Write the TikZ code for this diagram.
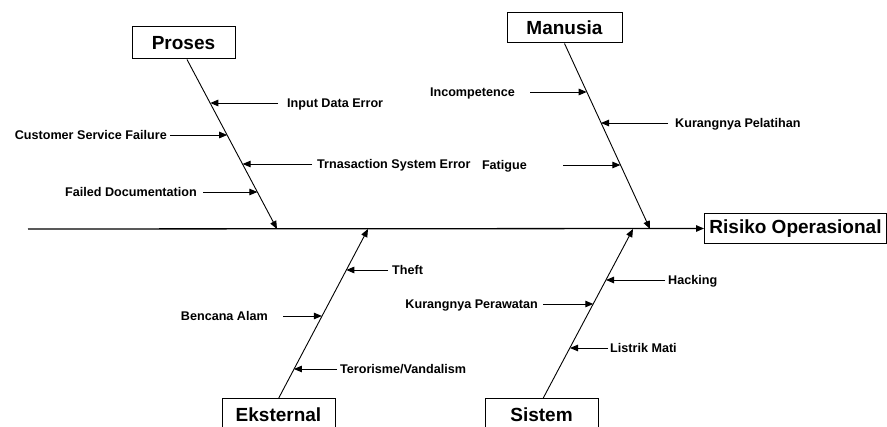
\documentclass[tikz,border=0pt]{standalone}
\usepackage{fontspec}
\setmainfont{Liberation Sans}
\usetikzlibrary{arrows.meta,calc}

\tikzset{
  catbox/.style={draw, line width=1pt, fill=white, inner sep=0pt,
    font=\fontsize{19}{22}\selectfont\bfseries},
  effectbox/.style={draw, line width=1pt, fill=white, inner sep=0pt,
    minimum height=30pt, minimum width=182pt,
    font=\fontsize{19}{22}\selectfont\bfseries},
  cause/.style={inner sep=0pt, font=\fontsize{12.6}{15}\selectfont\bfseries},
  tipstyle/.style={-{Triangle[length=8pt,width=6.5pt]}},
  spine/.style={tipstyle, line width=1.3pt},
  bone/.style={tipstyle, line width=0.9pt},
  causearrow/.style={tipstyle, line width=0.9pt},
}

\begin{document}
\begin{tikzpicture}[x=1pt, y=-1pt]
\clip (0,0) rectangle (887,427);
\fill[white] (0,0) rectangle (887,427);

% effect and main spine
\node[effectbox, anchor=west] (risk) at (704,228.5) {Risiko Operasional};
\coordinate (sp) at (28,229);
\draw[spine] (sp) -- (risk.west);

% category boxes
\node[catbox, minimum width=103pt, minimum height=32pt] (proses) at (183.5,43) {Proses};
\node[catbox, minimum width=115pt, minimum height=30pt] (manusia) at (564.5,28) {Manusia};
\node[catbox, minimum width=113pt, minimum height=31pt] (eksternal) at (278.5,414.5) {Eksternal};
\node[catbox, minimum width=113pt, minimum height=31pt] (sistem) at (541.5,414.5) {Sistem};

% bone ends on the spine
\coordinate (pe) at (277,229);
\coordinate (me) at (650,229);
\coordinate (ee) at (368,229);
\coordinate (se) at (633,229);

\draw[bone] ([xshift=3.5pt]proses.south) -- (pe);
\draw[bone] (manusia.south) -- (me);
\draw[bone] (eksternal.north) -- (ee);
\draw[bone] ([xshift=1.5pt]sistem.north) -- (se);

% --- Proses causes
\node[cause, anchor=base west] (c1) at (287,107.5) {Input Data Error};
\coordinate (c1s) at (278,103);  \coordinate (c1t) at (210.3,103);
\draw[causearrow] (c1s) -- (c1t);

\node[cause, anchor=base east] (c2) at (167,139.5) {Customer Service Failure};
\coordinate (c2s) at (170,135);  \coordinate (c2t) at (227.2,135);
\draw[causearrow] (c2s) -- (c2t);

\node[cause, anchor=base west] (c3) at (317,168.5) {Trnasaction System Error};
\coordinate (c3s) at (312,164);  \coordinate (c3t) at (242.6,164);
\draw[causearrow] (c3s) -- (c3t);

\node[cause, anchor=base east] (c4) at (197,196.5) {Failed Documentation};
\coordinate (c4s) at (203,192);  \coordinate (c4t) at (257.4,192);
\draw[causearrow] (c4s) -- (c4t);

% --- Manusia causes
\node[cause, anchor=base east] (m1) at (515,96.5) {Incompetence};
\coordinate (m1s) at (530,92);  \coordinate (m1t) at (586.7,92);
\draw[causearrow] (m1s) -- (m1t);

\node[cause, anchor=base west] (m2) at (675,127.5) {Kurangnya Pelatihan};
\coordinate (m2s) at (668,123);  \coordinate (m2t) at (601,123);
\draw[causearrow] (m2s) -- (m2t);

\node[cause, anchor=base east] (m3) at (527,169.5) {Fatigue};
\coordinate (m3s) at (563,165);  \coordinate (m3t) at (620.4,165);
\draw[causearrow] (m3s) -- (m3t);

% --- Eksternal causes
\node[cause, anchor=base west] (e1) at (392,274.5) {Theft};
\coordinate (e1s) at (388,270);  \coordinate (e1t) at (346.3,270);
\draw[causearrow] (e1s) -- (e1t);

\node[cause, anchor=base east] (e2) at (268,320.5) {Bencana Alam};
\coordinate (e2s) at (283,316);  \coordinate (e2t) at (321.9,316);
\draw[causearrow] (e2s) -- (e2t);

\node[cause, anchor=base west] (e3) at (340,373.5) {Terorisme/Vandalism};
\coordinate (e3s) at (337,369);  \coordinate (e3t) at (293.9,369);
\draw[causearrow] (e3s) -- (e3t);

% --- Sistem causes
\node[cause, anchor=base west] (s1) at (668,284.5) {Hacking};
\coordinate (s1s) at (665,280);  \coordinate (s1t) at (606,280);
\draw[causearrow] (s1s) -- (s1t);

\node[cause, anchor=base east] (s2) at (538,308.5) {Kurangnya Perawatan};
\coordinate (s2s) at (543,304);  \coordinate (s2t) at (593.3,304);
\draw[causearrow] (s2s) -- (s2t);

\node[cause, anchor=base west] (s3) at (610,352.5) {Listrik Mati};
\coordinate (s3s) at (608,348);  \coordinate (s3t) at (570,348);
\draw[causearrow] (s3s) -- (s3t);
\end{tikzpicture}
\end{document}
